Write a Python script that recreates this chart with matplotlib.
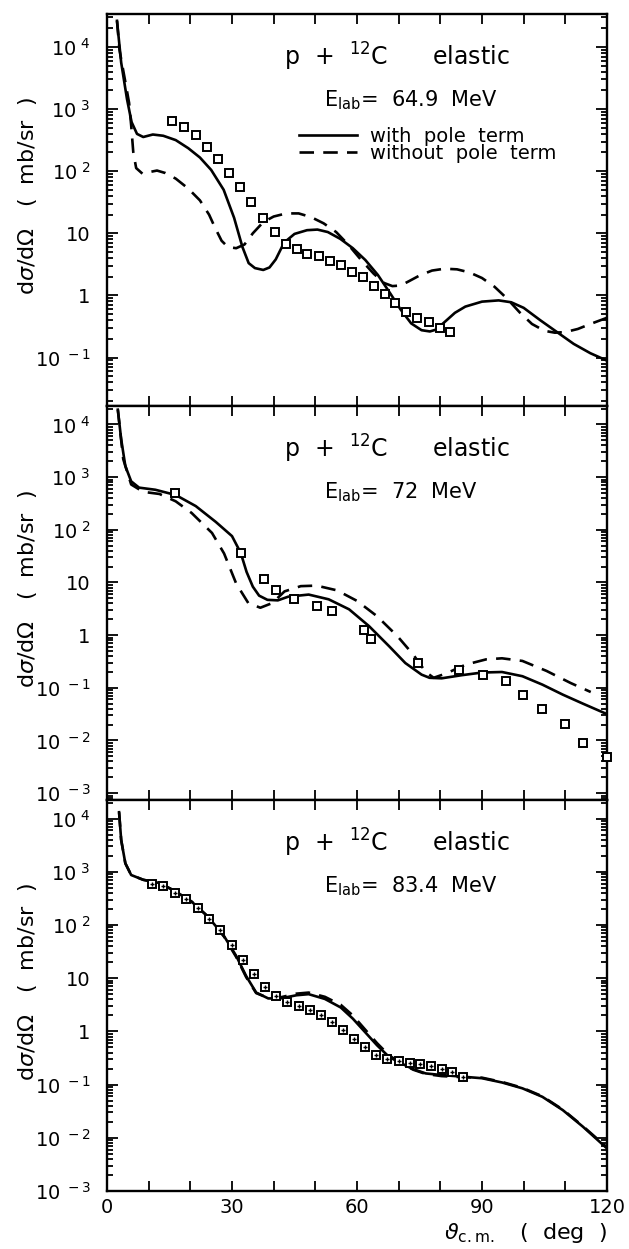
import numpy as np
import matplotlib
matplotlib.use("Agg")
import matplotlib.pyplot as plt
from matplotlib.ticker import LogLocator, FixedLocator, FuncFormatter, NullFormatter

plt.rcParams['font.family'] = ['DejaVu Sans']
plt.rcParams['mathtext.fontset'] = 'dejavusans'

# Panel 1: E_lab = 64.9 MeV  (angle in deg, log10 of dsigma/dOmega in mb/sr)
ang1_with = [2.4, 3.4, 4.8, 5.9, 7.2, 8.7, 11.0, 13.5, 16.5, 19.5, 22.3, 25.0, 28.0, 30.5,
             32.5, 34.0, 35.5, 37.5, 39.0, 40.5, 42.5, 45.0, 48.0, 50.5, 53.0, 56.0, 59.0,
             62.0, 65.0, 68.0, 70.5, 73.0, 75.5, 77.5, 79.0, 81.0, 83.5, 86.0, 90.0, 94.0,
             97.0, 100.0, 104.0, 108.0, 112.0, 116.0, 120.0]
log1_with = [4.42, 3.75, 3.16, 2.79, 2.60, 2.55, 2.59, 2.57, 2.50, 2.37, 2.22, 2.02, 1.70, 1.25,
             0.78, 0.52, 0.44, 0.41, 0.45, 0.58, 0.85, 0.99, 1.05, 1.06, 1.02, 0.91, 0.76,
             0.57, 0.33, 0.03, -0.23, -0.45, -0.56, -0.58, -0.55, -0.43, -0.28, -0.18, -0.10, -0.08,
             -0.11, -0.20, -0.40, -0.59, -0.78, -0.93, -1.05]
ang1_without = [2.4, 3.0, 4.5, 5.3, 5.8, 6.3, 7.0, 8.5, 10.5, 12.0, 14.0, 16.5, 19.5, 22.3,
                24.5, 26.0, 27.5, 29.0, 31.0, 33.0, 35.0, 37.5, 40.0, 43.0, 46.0, 49.0, 52.0,
                55.0, 58.0, 61.0, 64.0, 66.5, 68.5, 70.5, 72.5, 75.0, 78.0, 81.0, 84.0, 87.0,
                90.0, 93.0, 96.0, 99.0, 102.0, 105.0, 107.5, 110.0, 113.0, 116.0, 120.0]
log1_without = [4.42, 3.95, 3.40, 3.10, 2.74, 2.31, 2.05, 1.96, 1.99, 2.01, 1.97, 1.88, 1.72, 1.53,
                1.30, 1.08, 0.88, 0.78, 0.76, 0.82, 1.00, 1.18, 1.27, 1.32, 1.32, 1.26, 1.16,
                1.02, 0.81, 0.57, 0.35, 0.20, 0.15, 0.16, 0.23, 0.32, 0.40, 0.43, 0.42, 0.37,
                0.28, 0.14, -0.05, -0.27, -0.46, -0.57, -0.60, -0.59, -0.54, -0.46, -0.36]
ang1_data = [15.7, 18.4, 21.3, 23.9, 26.6, 29.2, 31.9, 34.6, 37.5, 40.2, 42.9, 45.5, 48.1,
             50.8, 53.4, 56.1, 58.8, 61.5, 64.1, 66.6, 69.2, 71.8, 74.5, 77.2, 79.8, 82.4]
log1_data = [2.80, 2.71, 2.58, 2.39, 2.20, 1.97, 1.75, 1.50, 1.24, 1.02, 0.83, 0.74, 0.67,
             0.63, 0.56, 0.49, 0.38, 0.29, 0.15, 0.03, -0.12, -0.26, -0.37, -0.42, -0.52, -0.59]

# Panel 2: E_lab = 72 MeV
ang2_with = [2.6, 3.4, 4.4, 5.8, 7.7, 11.6, 16.5, 21.3, 26.1, 30.0, 32.1, 33.5, 35.0, 36.5,
             38.5, 41.0, 43.5, 48.4, 53.2, 58.1, 62.9, 67.7, 71.6, 75.5, 77.4, 80.3, 85.2,
             90.0, 94.8, 99.7, 104.5, 109.4, 114.2, 120.0]
log2_with = [4.28, 3.72, 3.21, 2.92, 2.80, 2.76, 2.66, 2.45, 2.15, 1.88, 1.56, 1.20, 0.92, 0.75,
             0.67, 0.66, 0.73, 0.77, 0.68, 0.49, 0.17, -0.21, -0.53, -0.75, -0.81, -0.82, -0.76,
             -0.71, -0.70, -0.78, -0.94, -1.13, -1.30, -1.50]
ang2_without = [2.6, 3.9, 5.8, 8.7, 12.6, 16.5, 20.3, 25.2, 28.1, 31.0, 33.9, 36.8, 39.7, 42.6,
                46.5, 50.3, 55.2, 60.0, 64.8, 69.7, 73.5, 76.5, 78.4, 81.3, 86.1, 91.0, 94.8,
                99.7, 105.5, 111.3, 116.1]
log2_without = [4.28, 3.34, 2.86, 2.72, 2.68, 2.54, 2.32, 1.94, 1.55, 0.98, 0.61, 0.52, 0.61, 0.83,
                0.93, 0.94, 0.85, 0.65, 0.36, -0.02, -0.37, -0.70, -0.81, -0.73, -0.56, -0.46, -0.44,
                -0.49, -0.68, -0.91, -1.08]
ang2_data = [16.3, 32.1, 37.7, 40.6, 44.8, 50.5, 54.0, 61.7, 63.4, 74.7, 84.5, 90.2, 95.8,
             99.9, 104.3, 109.8, 114.2, 120.0]
log2_data = [2.69, 1.56, 1.07, 0.85, 0.68, 0.55, 0.46, 0.09, -0.07, -0.53, -0.67, -0.75, -0.87,
             -1.14, -1.40, -1.68, -2.05, -2.32]

# Panel 3: E_lab = 83.4 MeV
ang3_with = [2.9, 3.4, 4.4, 5.8, 8.7, 12.6, 16.5, 20.3, 24.2, 28.1, 31.0, 33.4, 35.8, 38.7,
             41.6, 45.5, 48.4, 52.3, 56.1, 59.0, 61.9, 64.8, 67.7, 70.6, 73.5, 76.5, 80.3,
             85.2, 90.0, 94.8, 99.7, 104.5, 109.4, 114.2, 120.0]
log3_with = [4.12, 3.60, 3.16, 2.94, 2.85, 2.79, 2.63, 2.44, 2.16, 1.79, 1.42, 1.04, 0.73, 0.62,
             0.62, 0.68, 0.70, 0.61, 0.45, 0.24, -0.01, -0.26, -0.48, -0.60, -0.71, -0.79, -0.82,
             -0.85, -0.88, -0.96, -1.07, -1.23, -1.48, -1.79, -2.20]
ang3_without = [2.9, 3.4, 4.4, 5.8, 8.7, 12.6, 16.5, 20.3, 24.2, 28.1, 31.0, 33.4, 35.8, 38.7,
                41.6, 45.5, 48.4, 52.3, 56.1, 59.0, 61.9, 64.8, 67.7, 70.6, 73.5, 76.5, 80.3,
                85.2, 90.0, 94.8, 99.7, 104.5, 109.4, 114.2, 120.0]
log3_without = [4.12, 3.60, 3.16, 2.94, 2.85, 2.79, 2.63, 2.44, 2.16, 1.78, 1.40, 1.02, 0.72, 0.63,
                0.64, 0.71, 0.73, 0.65, 0.50, 0.30, 0.04, -0.22, -0.45, -0.60, -0.72, -0.80, -0.84,
                -0.86, -0.87, -0.95, -1.06, -1.22, -1.47, -1.78, -2.18]
ang3_data = [10.8, 13.4, 16.2, 18.9, 21.8, 24.5, 27.1, 30.0, 32.6, 35.3, 37.9, 40.6, 43.3,
             46.0, 48.7, 51.3, 54.0, 56.6, 59.3, 61.9, 64.5, 67.3, 70.0, 72.6, 75.2, 77.7,
             80.3, 82.9, 85.4]
log3_data = [2.77, 2.74, 2.61, 2.49, 2.32, 2.11, 1.90, 1.62, 1.34, 1.08, 0.83, 0.66, 0.55,
             0.48, 0.40, 0.31, 0.17, 0.02, -0.14, -0.29, -0.44, -0.51, -0.56, -0.59, -0.62, -0.65,
             -0.71, -0.77, -0.85]

energies = ['64.9', '72', '83.4']
ylims = [(10**-1.78, 10**4.53), (10**-3.13, 10**4.35), (10**-3.0, 10**4.35)]
xticks = list(range(0, 121, 10))
xlabels = ['0', '', '', '30', '', '', '60', '', '', '90', '', '', '120']

panels = [
    (ang1_with, log1_with, ang1_without, log1_without, ang1_data, log1_data),
    (ang2_with, log2_with, ang2_without, log2_without, ang2_data, log2_data),
    (ang3_with, log3_with, ang3_without, log3_without, ang3_data, log3_data),
]


def ylab(v, pos):
    e = int(round(np.log10(v)))
    if e == 0:
        return '1'
    if e == 1:
        return '10'
    return r'$\mathregular{10^{\ %d}}$' % e


fig = plt.figure(figsize=(6.29, 12.49), dpi=100)
# axes boxes in figure pixels: left 107, right 607
bounds = [(14, 406), (406, 800), (800, 1191)]
W, H = 629.0, 1249.0
lw = 1.9
dash = (5.5, 3.5)

for i, (aw, lw_, ao, lo, ad, ld) in enumerate(panels):
    top, bot = bounds[i]
    ax = fig.add_axes([107 / W, 1 - bot / H, 500 / W, (bot - top) / H])
    ax.set_yscale('log')
    ax.plot(aw, 10 ** np.array(lw_), color='black', lw=lw, label='with  pole  term')
    ax.plot(ao, 10 ** np.array(lo), color='black', lw=lw, dashes=dash, label='without  pole  term')
    ax.plot(ad, 10 ** np.array(ld), ls='none', marker='s', ms=6.2, mfc='white', mec='black',
            mew=1.4, clip_on=False, zorder=5)
    if i == 2:
        ax.plot(ad, 10 ** np.array(ld), ls='none', marker='+', ms=3.5, color='black',
                mew=1.0, zorder=6)

    ax.set_xlim(0, 120)
    ax.set_ylim(*ylims[i])
    ax.xaxis.set_major_locator(FixedLocator(xticks))
    if i == 2:
        ax.set_xticklabels(xlabels)
    else:
        ax.set_xticklabels([])
    ax.yaxis.set_major_locator(LogLocator(base=10, numticks=20))
    ax.yaxis.set_minor_locator(LogLocator(base=10, subs=np.arange(2, 10), numticks=20))
    ax.yaxis.set_major_formatter(FuncFormatter(ylab))
    ax.yaxis.set_minor_formatter(NullFormatter())
    ax.tick_params(axis='both', which='both', direction='in', top=True, right=True,
                   width=1.3, labelsize=14, colors='black')
    ax.tick_params(axis='x', which='major', length=7, pad=5)
    ax.tick_params(axis='y', which='major', length=8, pad=12)
    ax.tick_params(axis='y', which='minor', length=4)
    for s in ax.spines.values():
        s.set_linewidth(1.7)

    ax.set_ylabel(r'd$\sigma$/d$\Omega$   (  mb/sr  )', fontsize=16)
    ax.yaxis.label.set_va('center')
    ax.yaxis.set_label_coords(-0.158, 0.535)

    ax.text(0.355, 0.89, r'p  +  $\mathregular{^{12}}$C      elastic', transform=ax.transAxes,
            fontsize=17, ha='left', va='center')
    ax.text(0.433, 0.78, r'E$_{\mathregular{lab}}$=  ' + energies[i] + '  MeV', transform=ax.transAxes,
            fontsize=15, ha='left', va='center')

    if i == 0:
        ax.legend(loc='upper left', bbox_to_anchor=(0.383, 0.712), frameon=False, fontsize=14,
                  handlelength=3.0, handletextpad=0.7, labelspacing=-0.1, borderpad=0,
                  borderaxespad=0)

    if i == 2:
        ax.set_xlabel(r'$\vartheta_{\mathregular{c.m.}}$   (  deg  )', fontsize=16, loc='right',
                      labelpad=3)

fig.savefig('out.png', dpi=100)
